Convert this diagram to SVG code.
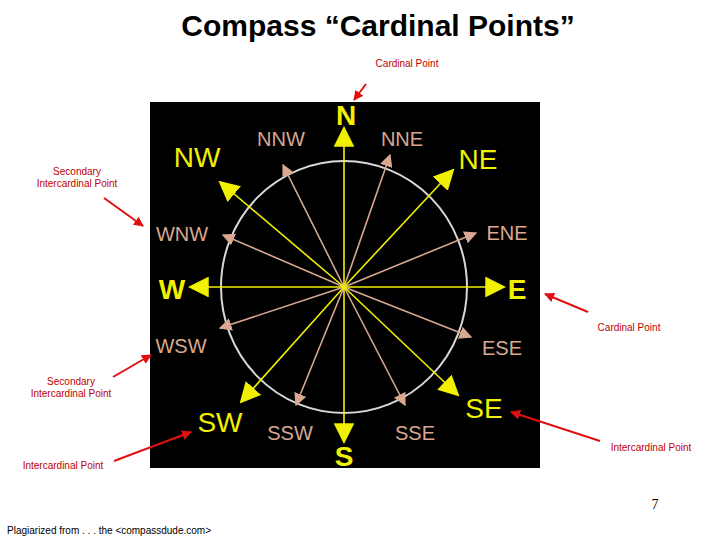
<svg xmlns="http://www.w3.org/2000/svg" width="720" height="540" viewBox="0 0 720 540">
<style>
.note{font-family:"Liberation Sans",Arial,sans-serif;font-size:10px;fill:#c00000}
.y{stroke:#f0f000;stroke-width:1.6}
.t{stroke:#d8a890;stroke-width:1.6}
.yl{font-family:"Liberation Sans",Arial,sans-serif;fill:#f0f000}
.tl{font-family:"Liberation Sans",Arial,sans-serif;fill:#d8a890;font-size:20px}
.red{stroke:#e01010;stroke-width:2;fill:none}
</style>
<defs>
<marker id="ybig" viewBox="0 0 10 10" refX="9" refY="5" markerWidth="13" markerHeight="13" markerUnits="strokeWidth" orient="auto"><path d="M0,0L10,5L0,10z" fill="#f0f000"/></marker>
<marker id="ta" viewBox="0 0 10 10" refX="9" refY="5" markerWidth="8" markerHeight="8" markerUnits="strokeWidth" orient="auto"><path d="M0,0L10,5L0,10z" fill="#d8a890"/></marker>
<marker id="ra" viewBox="0 0 10 10" refX="9" refY="5" markerWidth="5" markerHeight="5" markerUnits="strokeWidth" orient="auto"><path d="M0,0L10,5L0,10z" fill="#e01010"/></marker>
</defs>
<rect width="720" height="540" fill="#fff"/>
<text x="378" y="36" text-anchor="middle" font-family="Liberation Sans,Arial,sans-serif" font-size="30" font-weight="bold" fill="#000">Compass “Cardinal Points”</text>
<g id="compass">
<rect x="150" y="102" width="390" height="366" fill="#000"/>
<ellipse cx="344" cy="287" rx="123" ry="126" fill="none" stroke="#d8d8d8" stroke-width="2"/>
<g id="connectors">
<line class="t" x1="344" y1="287" x2="283" y2="165" marker-end="url(#ta)"/>
<line class="t" x1="344" y1="287" x2="390" y2="155" marker-end="url(#ta)"/>
<line class="t" x1="344" y1="287" x2="476" y2="233" marker-end="url(#ta)"/>
<line class="t" x1="344" y1="287" x2="471" y2="337" marker-end="url(#ta)"/>
<line class="t" x1="344" y1="287" x2="405" y2="405" marker-end="url(#ta)"/>
<line class="t" x1="344" y1="287" x2="296" y2="405" marker-end="url(#ta)"/>
<line class="t" x1="344" y1="287" x2="220" y2="328" marker-end="url(#ta)"/>
<line class="t" x1="344" y1="287" x2="223" y2="235" marker-end="url(#ta)"/>
<line class="y" x1="344" y1="287" x2="220" y2="182" marker-end="url(#ybig)"/>
<line class="y" x1="344" y1="287" x2="453" y2="170" marker-end="url(#ybig)"/>
<line class="y" x1="344" y1="287" x2="458" y2="395" marker-end="url(#ybig)"/>
<line class="y" x1="344" y1="287" x2="241" y2="402" marker-end="url(#ybig)"/>
<line class="y" x1="344" y1="287" x2="344" y2="128" marker-end="url(#ybig)"/>
<line class="y" x1="344" y1="287" x2="344" y2="442" marker-end="url(#ybig)"/>
<line class="y" x1="344" y1="287" x2="190" y2="287" marker-end="url(#ybig)"/>
<line class="y" x1="344" y1="287" x2="504" y2="287" marker-end="url(#ybig)"/>
</g>
<g id="labels">
<text class="yl" x="346" y="125" text-anchor="middle" font-size="28" font-weight="bold">N</text>
<text class="yl" x="344" y="466" text-anchor="middle" font-size="28" font-weight="bold">S</text>
<text class="yl" x="172" y="299" text-anchor="middle" font-size="28" font-weight="bold">W</text>
<text class="yl" x="517" y="299" text-anchor="middle" font-size="28" font-weight="bold">E</text>
<text class="yl" x="197" y="167" text-anchor="middle" font-size="28">NW</text>
<text class="yl" x="478" y="169" text-anchor="middle" font-size="28">NE</text>
<text class="yl" x="484" y="418" text-anchor="middle" font-size="28">SE</text>
<text class="yl" x="220" y="432" text-anchor="middle" font-size="28">SW</text>
<text class="tl" x="281" y="146" text-anchor="middle">NNW</text>
<text class="tl" x="402" y="146" text-anchor="middle">NNE</text>
<text class="tl" x="507" y="240" text-anchor="middle">ENE</text>
<text class="tl" x="502" y="355" text-anchor="middle">ESE</text>
<text class="tl" x="415" y="440" text-anchor="middle">SSE</text>
<text class="tl" x="290" y="440" text-anchor="middle">SSW</text>
<text class="tl" x="181" y="353" text-anchor="middle">WSW</text>
<text class="tl" x="182" y="241" text-anchor="middle">WNW</text>
</g>
</g>
<g id="notes">
<text class="note" x="407" y="67" text-anchor="middle">Cardinal Point</text>
<text class="note" x="77" y="175" text-anchor="middle">Secondary</text>
<text class="note" x="77" y="187" text-anchor="middle">Intercardinal Point</text>
<text class="note" x="629" y="331" text-anchor="middle">Cardinal Point</text>
<text class="note" x="71" y="385" text-anchor="middle">Secondary</text>
<text class="note" x="71" y="397" text-anchor="middle">Intercardinal Point</text>
<text class="note" x="63" y="469" text-anchor="middle">Intercardinal Point</text>
<text class="note" x="651" y="451" text-anchor="middle">Intercardinal Point</text>
</g>
<g id="pointers">
<line class="red" x1="366" y1="84" x2="354" y2="100" marker-end="url(#ra)"/>
<line class="red" x1="104" y1="198" x2="143" y2="226" marker-end="url(#ra)"/>
<line class="red" x1="588" y1="312" x2="545" y2="294" marker-end="url(#ra)"/>
<line class="red" x1="113" y1="377" x2="151" y2="355" marker-end="url(#ra)"/>
<line class="red" x1="114" y1="461" x2="191" y2="432" marker-end="url(#ra)"/>
<line class="red" x1="600" y1="441" x2="511" y2="412" marker-end="url(#ra)"/>
</g>
<text x="655" y="509" text-anchor="middle" font-family="Liberation Serif,Times New Roman,serif" font-size="14" fill="#000">7</text>
<text x="7" y="534" font-family="Liberation Sans,Arial,sans-serif" font-size="10" fill="#000">Plagiarized from . . . the &lt;compassdude.com&gt;</text>
</svg>
